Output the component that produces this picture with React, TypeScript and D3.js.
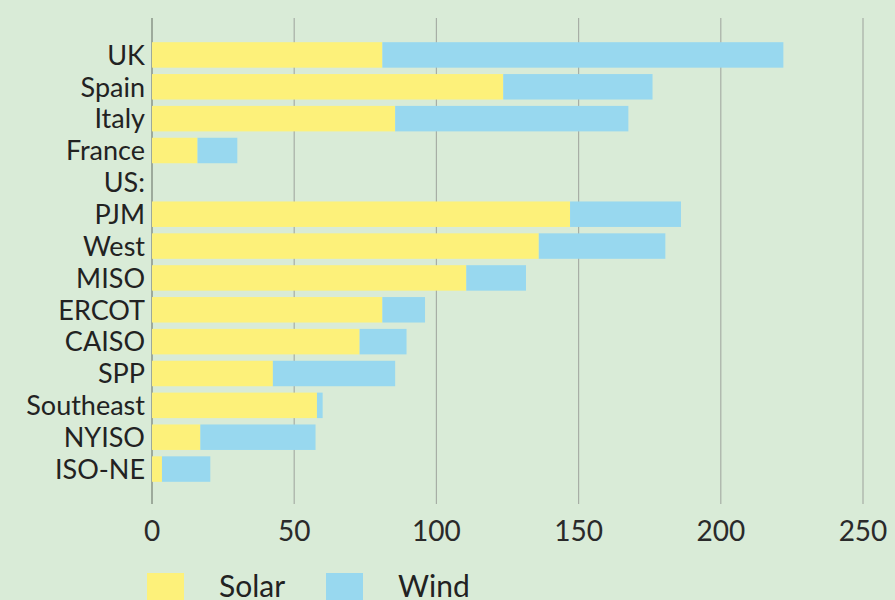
import * as d3 from 'd3';

const regions = ['UK', 'Spain', 'Italy', 'France', 'US:', 'PJM', 'West', 'MISO', 'ERCOT', 'CAISO', 'SPP', 'Southeast', 'NYISO', 'ISO-NE'];
const solar = [81, 123.5, 85.5, 16, 0, 147, 136, 110.5, 81, 73, 42.5, 58, 17, 3.5];
const wind = [141, 52.5, 82, 14, 0, 39, 44.5, 21, 15, 16.5, 43, 2, 40.5, 17];
const ticks = [0, 50, 100, 150, 200, 250];
const series = ['Solar', 'Wind'];

const colors: Record<string, string> = { Solar: '#fdf17a', Wind: '#98d8ef' };

export default function App() {
  const width = 895;
  const height = 600;
  const font = 'Lato, "Noto Sans", sans-serif';

  const x = d3.scaleLinear().domain([0, 250]).range([152, 863]);
  const y = d3.scaleBand().domain(regions).range([39, 485]).paddingInner(0.2).paddingOuter(0.1);

  const rows = regions.map((r, i) => ({ region: r, Solar: solar[i], Wind: wind[i] }));
  const stacked = d3.stack<any>().keys(series)(rows);

  return (
    <svg width={width} height={height} style={{ position: 'absolute', left: 0, top: 0, background: '#d9ebd7' }}>
      <rect width={width} height={height} fill="#d9ebd7" />
      {ticks.map((t) => (
        <line key={t} x1={x(t)} x2={x(t)} y1={18} y2={504} stroke={t === 0 ? '#8e9a8c' : '#a7aea5'} strokeWidth={t === 0 ? 1.6 : 1.2} />
      ))}
      {stacked.map((s) => (
        <g key={s.key} fill={colors[s.key]}>
          {s.map((d, i) =>
            d[1] - d[0] > 0 ? (
              <rect key={i} x={x(d[0])} y={y(regions[i])} width={x(d[1]) - x(d[0])} height={y.bandwidth()} />
            ) : null
          )}
        </g>
      ))}
      {regions.map((r) => (
        <text key={r} x={145} y={(y(r) ?? 0) + y.bandwidth() / 2} dy="0.36em" textAnchor="end" fontFamily={font} fontSize={27} fill="#222">
          {r}
        </text>
      ))}
      {ticks.map((t) => (
        <text key={t} x={x(t)} y={541} textAnchor="middle" fontFamily={font} fontSize={28} fill="#2a2a2a">
          {t}
        </text>
      ))}
      {series.map((s, i) => (
        <g key={s} transform={`translate(${147 + i * 179},573)`}>
          <rect width={37} height={27} fill={colors[s]} />
          <text x={72} y={24} fontFamily={font} fontSize={30} fill="#222">{s}</text>
        </g>
      ))}
    </svg>
  );
}
